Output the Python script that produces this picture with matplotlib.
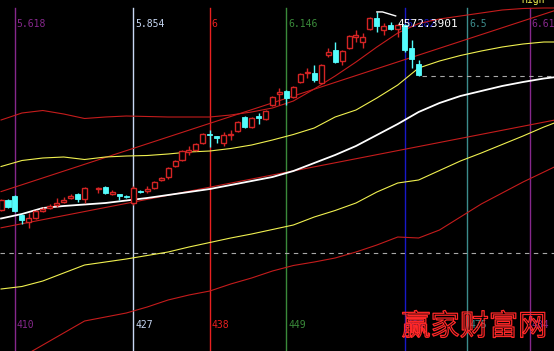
import matplotlib.pyplot as plt
import matplotlib.patheffects as pe
import numpy as np
from matplotlib.patches import Rectangle
from matplotlib.transforms import blended_transform_factory

plt.rcParams['font.family'] = ['DejaVu Sans Mono', 'Noto Sans CJK SC']

# K-line data (bar number, open, high, low, close)
bars = [408, 409, 410, 411, 412, 413, 414, 415, 416, 417, 418, 419, 420,
        422, 423, 424, 425, 426, 427, 428, 429, 430, 431, 432, 433, 434,
        435, 436, 437, 438, 439, 440, 441, 442, 443, 444, 445, 446, 447,
        448, 449, 450, 451, 452, 453, 454, 455, 456, 457, 458, 459, 460,
        461, 462, 463, 464, 465, 466, 467, 468]
opens = [3582, 3632, 3652, 3557, 3522, 3542, 3579.5, 3594.5, 3607, 3622, 3642, 3662, 3637,
         3687, 3697, 3662, 3662, 3652, 3617, 3677, 3677, 3692, 3732, 3747, 3802, 3832,
         3872, 3882, 3917, 3962, 3952, 3917, 3957, 3977, 4047, 3997, 4052, 4037, 4107,
         4162, 4177, 4147, 4222, 4267, 4267, 4217, 4357, 4382, 4327, 4392, 4447, 4422,
         4487, 4542, 4482, 4507, 4487, 4507, 4392, 4312]
highs = [3637, 3637, 3657, 3562, 3567, 3582, 3597, 3612, 3642, 3647, 3662, 3667, 3697,
         3697, 3702, 3682, 3662, 3657, 3702, 3682, 3702, 3727, 3747, 3797, 3832, 3882,
         3902, 3917, 3967, 3982, 3952, 3972, 3982, 4027, 4052, 4047, 4067, 4082, 4152,
         4192, 4182, 4202, 4267, 4292, 4307, 4312, 4392, 4422, 4382, 4457, 4482, 4467,
         4547, 4572.3901, 4517, 4522, 4512, 4512, 4432, 4332]
lows = [3577, 3592, 3572, 3512, 3492, 3537, 3572, 3587, 3597, 3617, 3637, 3622, 3617,
        3667, 3662, 3657, 3632, 3642, 3607, 3667, 3667, 3687, 3727, 3737, 3797, 3827,
        3857, 3877, 3912, 3897, 3917, 3902, 3932, 3972, 3992, 3992, 4012, 4032, 4102,
        4107, 4107, 4142, 4217, 4242, 4222, 4212, 4347, 4317, 4307, 4387, 4422, 4392,
        4482, 4472, 4457, 4482, 4447, 4372, 4292, 4252]
closes = [3632, 3597, 3577, 3532, 3542, 3577, 3587, 3602, 3617, 3632, 3652, 3637, 3692,
          3692, 3667, 3672, 3652, 3647, 3692, 3672, 3687, 3722, 3742, 3792, 3827, 3877,
          3882, 3912, 3962, 3957, 3942, 3957, 3962, 4022, 3997, 4042, 4042, 4077, 4147,
          4172, 4142, 4197, 4262, 4272, 4232, 4307, 4372, 4322, 4377, 4452, 4457, 4447,
          4542, 4502, 4502, 4487, 4507, 4382, 4337, 4257]

# channel / band lines sampled every 3 bars
line_bars = [408, 411, 414, 417, 420, 423, 426, 429, 432, 435, 438, 441, 444, 447,
             450, 453, 456, 459, 462, 465, 468, 471, 474, 477, 480, 483, 486, 489]
ma_white = [3539.5, 3562, 3592, 3602, 3609.5, 3617, 3629.5, 3642, 3657, 3672, 3687, 3707,
            3727, 3747, 3777, 3817, 3857, 3902, 3957, 4012, 4072, 4117, 4152, 4177,
            4202, 4222, 4239.5, 4252]
ma_yellow = [3799.5, 3829.5, 3842, 3847, 3834.5, 3847, 3852, 3854.5, 3862, 3872, 3877,
             3889.5, 3907, 3932, 3959.5, 3992, 4047, 4082, 4142, 4207, 4292, 4327,
             4354.5, 4377, 4397, 4412, 4422, 4422]
upper_band = [4032, 4067, 4079.5, 4062, 4039.5, 4047, 4052, 4049.5, 4047, 4047, 4047,
              4057, 4072, 4092, 4127, 4187, 4252, 4322, 4397, 4467, 4514.5, 4537, 4552,
              4567, 4582, 4589.5, 4592, 4592]
low_yellow = [3187, 3199.5, 3227, 3267, 3307, 3322, 3337, 3354.5, 3372, 3397, 3419.5,
              3442, 3462, 3484.5, 3507, 3547, 3579.5, 3617, 3672, 3717, 3732, 3779.5,
              3827, 3867, 3909.5, 3952, 3997, 4037]
lower_band = [2772, 2847, 2907, 2967, 3027, 3047, 3067, 3097, 3132, 3157, 3177, 3212,
              3242, 3277, 3304.5, 3322, 3342, 3372, 3407, 3447, 3442, 3482, 3547, 3612,
              3667, 3722, 3772, 3822]

# straight channel lines (start/end)
chan_bars = [408, 489]
chan_upper = [3674, 4595.5]
chan_lower = [3493, 4041.5]

ref_level = 3367

# fibonacci time lines
fib_bars = [410, 427, 438, 449, 466, 475, 484]
fib_ratio = ['5.618', '5.854', '6', '6.146', '6.382', '6.5', '6.618']
fib_colors = ['#86288c', '#c8d8f4', '#e82020', '#3a8a3a', '#1818c8', '#3c8c8c', '#86288c']

UP = '#d42424'
DOWN = '#54fcfc'
LINE_RED = '#c41c1c'

fig = plt.figure(figsize=(5.54, 3.51), dpi=100, facecolor='black')
ax = fig.add_axes([0, 0, 1, 1])
ax.set_facecolor('black')
ax.set_xlim(407.85, 487.45)
ax.set_ylim(2877, 4632)
ax.axis('off')
tr = blended_transform_factory(ax.transData, ax.transAxes)

# vertical time lines and labels
for b, r, c in zip(fib_bars, fib_ratio, fib_colors):
    ax.plot([b, b], [0, 0.977], transform=tr, color=c, lw=1.0, zorder=1)
    ax.text(b + 0.25, 0.932, r, transform=tr, color=c, fontsize=7, va='center', zorder=2)
    ax.text(b + 0.25, 0.074, str(b), transform=tr, color=c, fontsize=7, va='center', zorder=2)

# dashed reference lines
ax.axhline(ref_level, color='#a8a8a8', lw=0.8, ls=(0, (4, 4)), zorder=1)
ax.plot([bars[-1] + 0.5, 490], [closes[-1] - 5, closes[-1] - 5], color='#a8a8a8', lw=0.8,
        ls=(0, (4, 4)), zorder=1)

# curves
ax.plot(chan_bars, chan_upper, color=LINE_RED, lw=0.8, zorder=2)
ax.plot(chan_bars, chan_lower, color=LINE_RED, lw=0.8, zorder=2)
ax.plot(line_bars, upper_band, color=LINE_RED, lw=0.8, zorder=2)
ax.plot(line_bars, lower_band, color=LINE_RED, lw=0.8, zorder=2)
ax.plot(line_bars, ma_yellow, color='#f0f050', lw=0.8, zorder=2)
ax.plot(line_bars, low_yellow, color='#f0f050', lw=0.8, zorder=2)
ax.plot(line_bars, ma_white, color='white', lw=1.3, zorder=2)

# candles
w = 0.72
for b, o, h, l, c in zip(bars, opens, highs, lows, closes):
    top, bot = max(o, c), min(o, c)
    if c >= o:
        col = UP
        ax.vlines(b, top, h, color=col, lw=1.0, zorder=3)
        ax.vlines(b, l, bot, color=col, lw=1.0, zorder=3)
        ax.add_patch(Rectangle((b - w / 2, bot), w, max(top - bot, 3), facecolor='black',
                               edgecolor=col, lw=1.0, zorder=4))
    else:
        col = DOWN
        ax.vlines(b, l, h, color=col, lw=1.0, zorder=3)
        ax.add_patch(Rectangle((b - w / 2, bot), w, max(top - bot, 3), facecolor=col,
                               edgecolor=col, lw=0.6, zorder=4))

# highest price marker
imax = int(np.argmax(highs))
hb, hv = bars[imax], highs[imax]
ax.plot([hb, hb + 0.8, hb + 2.7], [hv, hv, hv - 20], color='white', lw=1.0, zorder=5)
ax.text(hb + 3.0, 0.932, '%.4f' % hv, transform=tr, color='white', fontsize=8,
        va='center', zorder=6)

ax.text(482.7, 1.0, 'High', transform=tr, color='#f0f050', fontsize=7, va='center', zorder=6)

# watermark (thin outlined glyphs)
ax.text(0.856, 0.068, '赢家财富网', transform=ax.transAxes, color='none', fontsize=21,
        fontfamily='Noto Sans CJK SC', ha='center', va='center', zorder=7,
        path_effects=[pe.Stroke(linewidth=0.9, foreground='#ff2828')])

fig.savefig('out.png', dpi=100, facecolor='black')
